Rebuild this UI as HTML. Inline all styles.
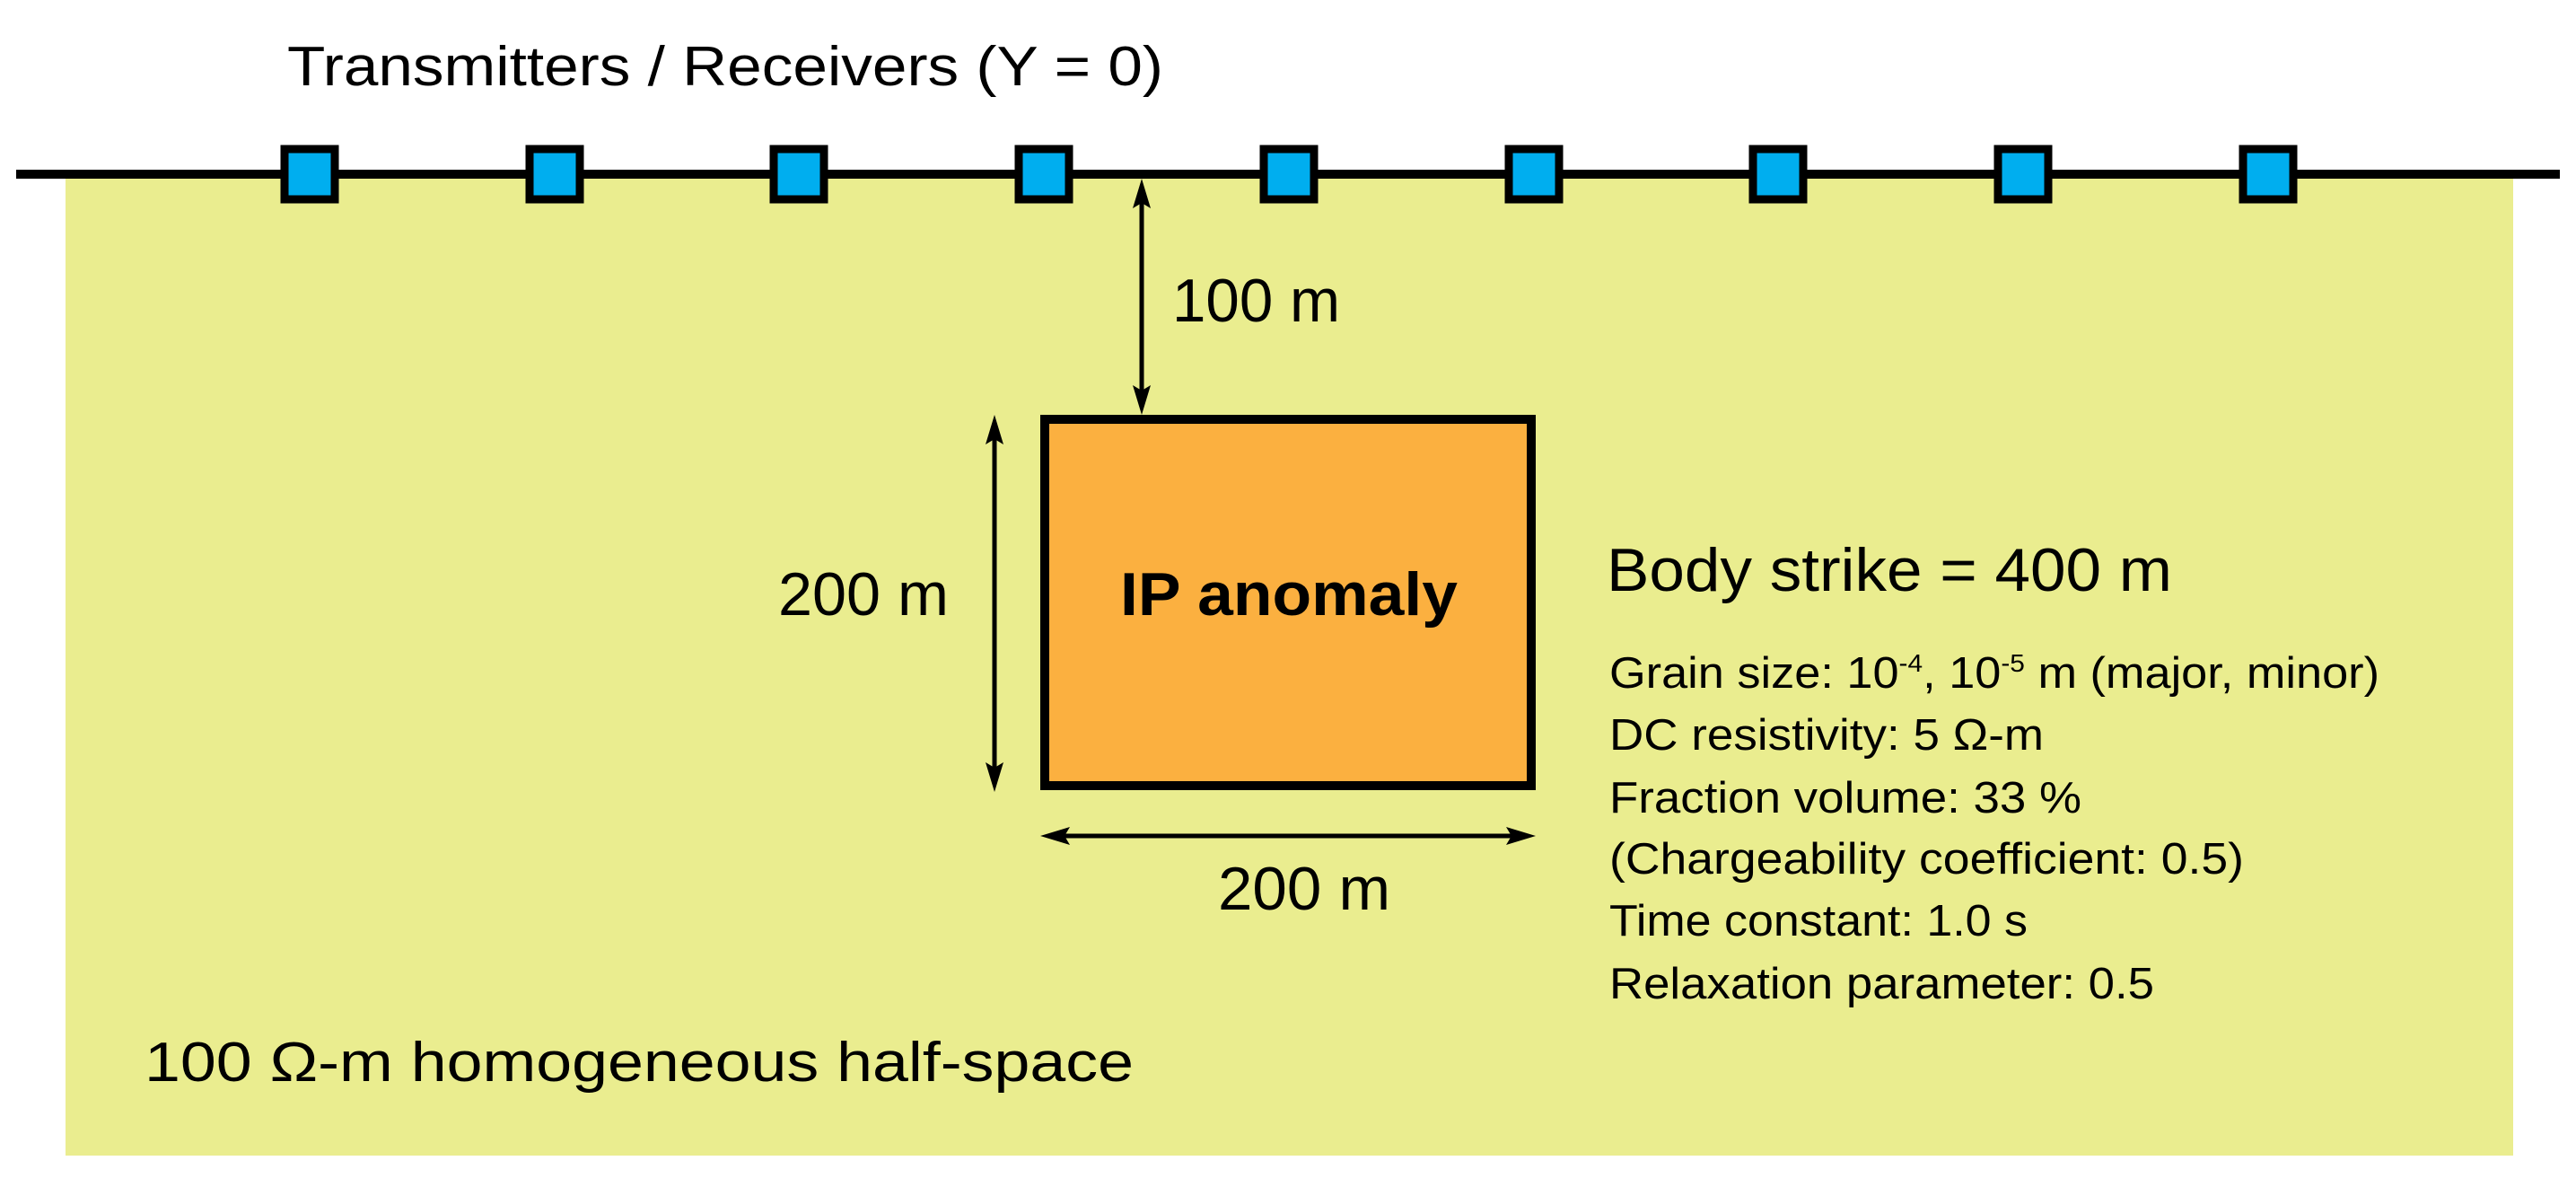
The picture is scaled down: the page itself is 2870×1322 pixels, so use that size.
<!DOCTYPE html>
<html><head><meta charset="utf-8"><style>
html,body{margin:0;padding:0;background:#fff;}
svg{display:block;}
text{font-family:"Liberation Sans Narrow","Liberation Sans",sans-serif;fill:#000;}
</style></head><body>
<svg width="2870" height="1322" viewBox="0 0 2870 1322" xmlns="http://www.w3.org/2000/svg">
<rect x="73" y="194" width="2727" height="1093" fill="#eaed8f"/>
<line x1="18" y1="194" x2="2852" y2="194" stroke="#000" stroke-width="10"/>
<g fill="#00aeef" stroke="#000" stroke-width="9">
<rect x="317" y="166" width="56" height="56"/>
<rect x="590" y="166" width="56" height="56"/>
<rect x="862" y="166" width="56" height="56"/>
<rect x="1135" y="166" width="56" height="56"/>
<rect x="1408" y="166" width="56" height="56"/>
<rect x="1681" y="166" width="56" height="56"/>
<rect x="1953" y="166" width="56" height="56"/>
<rect x="2226" y="166" width="56" height="56"/>
<rect x="2499" y="166" width="56" height="56"/>
</g>
<rect x="1164" y="467" width="542" height="408" fill="#fbb040" stroke="#000" stroke-width="10"/>
<g stroke="#000" stroke-width="5">
<line x1="1272" y1="215" x2="1272" y2="445"/>
<line x1="1108" y1="480" x2="1108" y2="862"/>
<line x1="1177" y1="931" x2="1693" y2="931"/>
</g>
<g fill="#000">
<polygon points="1272,199 1262,232 1272,226 1282,232"/>
<polygon points="1272,462 1262,429 1272,435 1282,429"/>
<polygon points="1108,462 1098,495 1108,489 1118,495"/>
<polygon points="1108,882 1098,849 1108,855 1118,849"/>
<polygon points="1159,931 1192,921 1186,931 1192,941"/>
<polygon points="1711,931 1678,921 1684,931 1678,941"/>
</g>
<text x="320" y="95" font-size="62" textLength="976" lengthAdjust="spacingAndGlyphs">Transmitters / Receivers (Y = 0)</text>
<text x="1306" y="358" font-size="68" textLength="187" lengthAdjust="spacingAndGlyphs">100 m</text>
<text x="867" y="685" font-size="68" textLength="190" lengthAdjust="spacingAndGlyphs">200 m</text>
<text x="1357" y="1013" font-size="68" textLength="192" lengthAdjust="spacingAndGlyphs">200 m</text>
<text x="1248" y="685" font-size="68" font-weight="bold" textLength="376" lengthAdjust="spacingAndGlyphs">IP anomaly</text>
<text x="1790" y="658" font-size="68" textLength="630" lengthAdjust="spacingAndGlyphs">Body strike = 400 m</text>
<g font-size="49">
<text x="1793" y="766" textLength="858" lengthAdjust="spacingAndGlyphs">Grain size: 10<tspan font-size="28" dy="-18">-4</tspan><tspan dy="18">, 10</tspan><tspan font-size="28" dy="-18">-5</tspan><tspan dy="18"> m (major, minor)</tspan></text>
<text x="1793" y="835" textLength="484" lengthAdjust="spacingAndGlyphs">DC resistivity: 5 Ω-m</text>
<text x="1793" y="905" textLength="526" lengthAdjust="spacingAndGlyphs">Fraction volume: 33 %</text>
<text x="1793" y="973" textLength="707" lengthAdjust="spacingAndGlyphs">(Chargeability coefficient: 0.5)</text>
<text x="1793" y="1042" textLength="466" lengthAdjust="spacingAndGlyphs">Time constant: 1.0 s</text>
<text x="1793" y="1112" textLength="607" lengthAdjust="spacingAndGlyphs">Relaxation parameter: 0.5</text>
</g>
<text x="161" y="1204" font-size="62" textLength="1102" lengthAdjust="spacingAndGlyphs">100 Ω-m homogeneous half-space</text>
</svg>
</body></html>
